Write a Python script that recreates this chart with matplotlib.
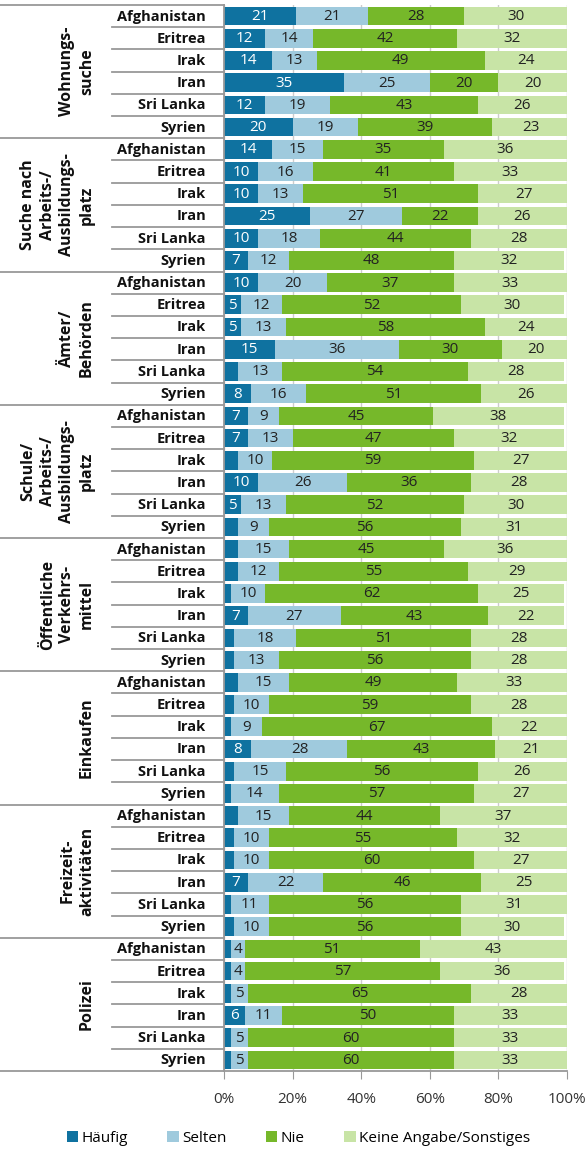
import numpy as np
import matplotlib
matplotlib.use("Agg")
import matplotlib.pyplot as plt
from matplotlib.lines import Line2D

plt.rcParams['font.family'] = ['Open Sans', 'DejaVu Sans']

groups = ['Wohnungs-\nsuche', 'Suche nach\nArbeits-/\nAusbildungs-\nplatz', 'Ämter/\nBehörden',
          'Schule/\nArbeits-/\nAusbildungs-\nplatz', 'Öffentliche\nVerkehrs-\nmittel', 'Einkaufen',
          'Freizeit-\naktivitäten', 'Polizei']
countries = ['Afghanistan', 'Eritrea', 'Irak', 'Iran', 'Sri Lanka', 'Syrien']
series = ['Häufig', 'Selten', 'Nie', 'Keine Angabe/Sonstiges']
colors = ['#0f72a0', '#9fcadd', '#76b82a', '#c8e4a6']

haeufig = [[21, 12, 14, 35, 12, 20],
           [14, 10, 10, 25, 10, 7],
           [10, 5, 5, 15, 4, 8],
           [7, 7, 4, 10, 5, 4],
           [4, 4, 2, 7, 3, 3],
           [4, 3, 2, 8, 3, 2],
           [4, 3, 3, 7, 2, 3],
           [2, 2, 2, 6, 2, 2]]
selten = [[21, 14, 13, 25, 19, 19],
          [15, 16, 13, 27, 18, 12],
          [20, 12, 13, 36, 13, 16],
          [9, 13, 10, 26, 13, 9],
          [15, 12, 10, 27, 18, 13],
          [15, 10, 9, 28, 15, 14],
          [15, 10, 10, 22, 11, 10],
          [4, 4, 5, 11, 5, 5]]
nie = [[28, 42, 49, 20, 43, 39],
       [35, 41, 51, 22, 44, 48],
       [37, 52, 58, 30, 54, 51],
       [45, 47, 59, 36, 52, 56],
       [45, 55, 62, 43, 51, 56],
       [49, 59, 67, 43, 56, 57],
       [44, 55, 60, 46, 56, 56],
       [51, 57, 65, 50, 60, 60]]
keine = [[30, 32, 24, 20, 26, 23],
         [36, 33, 27, 26, 28, 32],
         [33, 30, 24, 20, 28, 26],
         [38, 32, 27, 28, 30, 31],
         [36, 29, 25, 22, 28, 28],
         [33, 28, 22, 21, 26, 27],
         [37, 32, 27, 25, 31, 30],
         [43, 36, 28, 33, 33, 33]]

W, H = 588, 1149
fig = plt.figure(figsize=(W / 100, H / 100), dpi=100)
ax = fig.add_axes([224 / W, 1 - 1071 / H, 343 / W, (1071 - 5) / H])

data = [np.array(s).ravel() for s in (haeufig, selten, nie, keine)]
n = len(data[0])
y = np.arange(n)
left = np.zeros(n)
handles = []
for k, vals in enumerate(data):
    b = ax.barh(y, vals, left=left, height=0.84, color=colors[k], label=series[k], zorder=2)
    handles.append(b)
    for i in range(n):
        v = vals[i]
        if k == 0 and v < 5:
            continue
        ax.text(left[i] + v / 2, y[i] + 0.02, f'{v:d}', ha='center', va='center', fontsize=11,
                color='white' if k == 0 else '#222222', zorder=3)
    left = left + vals

ax.set_xlim(0, 100)
ax.set_ylim(n - 0.5, -0.5)
ax.set_yticks([])
ax.set_xticks(np.arange(0, 101, 20))
ax.set_xticklabels([f'{t}%' for t in range(0, 101, 20)], fontsize=11, color='#333333')
ax.tick_params(axis='x', length=6, color='#999999', pad=9)
ax.grid(axis='x', color='#cccccc', lw=1, zorder=0)
for s in ['top', 'right']:
    ax.spines[s].set_visible(False)
ax.spines['left'].set_color('#999999')
ax.spines['bottom'].set_color('#999999')
ax.spines['left'].set_linewidth(1.3)
ax.spines['bottom'].set_linewidth(1.3)

trans = ax.get_yaxis_transform()
x_lab = (206 - 224) / 343
x_row = (112 - 224) / 343
x_grp = -224 / 343
for i in range(n):
    ax.text(x_lab, y[i] + 0.02, countries[i % 6], transform=trans, ha='right', va='center',
            fontsize=10.5, fontweight='bold', color='#111111')
for i in range(n + 1):
    x0 = x_grp if i % 6 == 0 else x_row
    ax.add_line(Line2D([x0, 0], [i - 0.5, i - 0.5], transform=trans, color='#999999',
                       lw=1.3, clip_on=False))
for g, name in enumerate(groups):
    ax.text((95 - 224) / 343, g * 6 + 2.5, name, transform=trans, rotation=90, ha='right',
            va='center', multialignment='center', fontsize=11.5, fontweight='bold',
            linespacing=1.3, color='#111111')

fig.legend(handles=handles, labels=series, loc='center', bbox_to_anchor=(0.507, 1 - 1138 / H),
           ncol=4, frameon=False, fontsize=11, handlelength=0.75, handleheight=0.75,
           handletextpad=0.2, columnspacing=2.6, borderpad=0)

fig.savefig('out.png', dpi=100)
